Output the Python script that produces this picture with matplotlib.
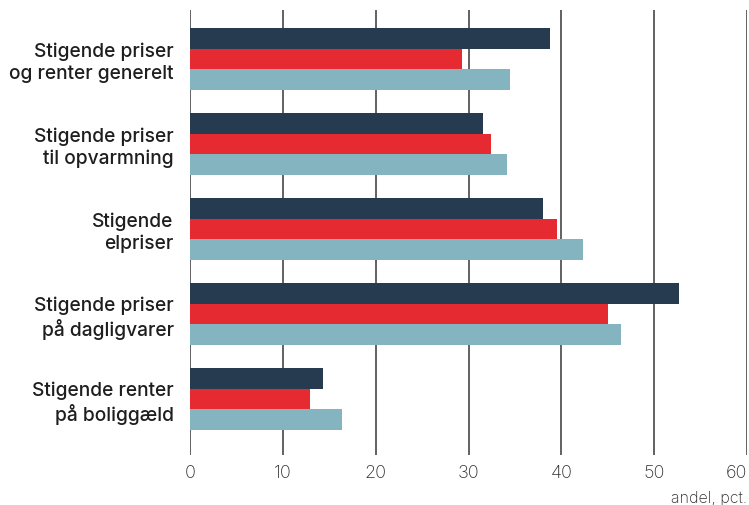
import matplotlib
matplotlib.use("Agg")
import matplotlib.pyplot as plt
import numpy as np

categories = [
    "Stigende priser\nog renter generelt",
    "Stigende priser\ntil opvarmning",
    "Stigende\nelpriser",
    "Stigende priser\npå dagligvarer",
    "Stigende renter\npå boliggæld",
]
series_dark = [38.8, 31.5, 38.0, 52.7, 14.3]
series_red = [29.3, 32.4, 39.5, 45.0, 12.9]
series_teal = [34.5, 34.1, 42.3, 46.4, 16.4]
x_ticks = [0, 10, 20, 30, 40, 50, 60]
x_label = "andel, pct."

colors = ["#263b50", "#e52a32", "#84b4bf"]

fig = plt.figure(figsize=(7.49, 5.05), dpi=100)
W, H = 749, 505
left, right, top, bottom = 190.2, 747, 10, 455
ax = fig.add_axes([left / W, 1 - bottom / H, (right - left) / W, (bottom - top) / H])

y = np.arange(len(categories))
h = 0.2435
for k, (vals, c) in enumerate(zip([series_dark, series_red, series_teal], colors)):
    ax.barh(y + (k - 1) * h, vals, height=h, color=c, zorder=3, linewidth=0)

ax.set_xlim(0, 60)
ax.set_ylim(4.659, -0.576)
ax.set_xticks(x_ticks)
ax.set_xticklabels([str(t) for t in x_ticks], fontfamily="Inter", fontweight="light",
                   fontsize=13, color="#2e2e2e")
ax.get_xticklabels()[-1].set_horizontalalignment("right")
ax.tick_params(axis="x", length=0, pad=7)
ax.set_yticks(y)
ax.set_yticklabels(categories, fontfamily="Inter", fontweight="medium", fontsize=13.8,
                   color="#1e1e1e", linespacing=1.27)
ax.tick_params(axis="y", length=0, pad=11.8)
for lbl in ax.get_yticklabels():
    lbl.set_horizontalalignment("right")

for t in x_ticks:
    ax.axvline(t, color="#555555", linewidth=1.3, zorder=1)
for s in ax.spines.values():
    s.set_visible(False)

fig.text(right / W, 1 - 498 / H, x_label, ha="right", va="center",
         fontfamily="Inter", fontweight="light", fontsize=11.5, color="#2e2e2e")

fig.savefig("out.png", dpi=100)
